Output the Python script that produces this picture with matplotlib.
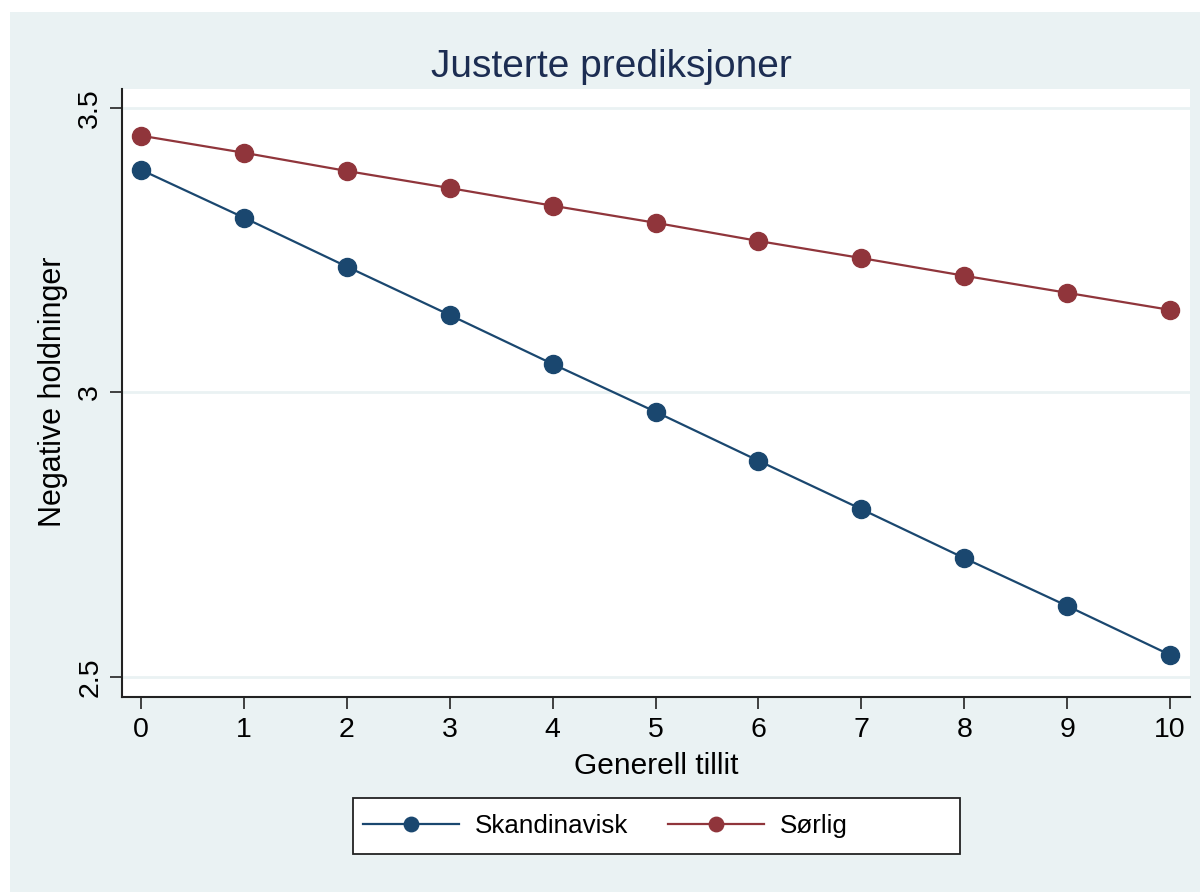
import matplotlib
matplotlib.use("Agg")
import matplotlib.pyplot as plt
from matplotlib.patches import Rectangle

# data
tillit = [0, 1, 2, 3, 4, 5, 6, 7, 8, 9, 10]
skandinavisk = [3.391, 3.307, 3.221, 3.136, 3.050, 2.966, 2.880, 2.795, 2.709, 2.625, 2.539]
sorlig = [3.451, 3.421, 3.389, 3.359, 3.328, 3.298, 3.266, 3.236, 3.205, 3.175, 3.145]
y_ticks = [2.5, 3.0, 3.5]
y_ticklabels = ["2.5", "3", "3.5"]

navy = "#1A476F"
maroon = "#90353B"
bg = "#EAF2F3"

plt.rcParams["font.family"] = ["Liberation Sans", "DejaVu Sans"]

W, H = 1200, 892
fig = plt.figure(figsize=(W / 100, H / 100), dpi=100, facecolor="white")
fig.patches.append(Rectangle((10 / W, 0), 1 - 10 / W, 1 - 12 / H,
                             transform=fig.transFigure, facecolor=bg,
                             edgecolor="none", zorder=-10))

ax = fig.add_axes([122 / W, 1 - 697 / H, (1190 - 122) / W, (697 - 89) / H])
ax.set_facecolor("white")

ax.plot(tillit, skandinavisk, color=navy, lw=1.6, marker="o", ms=13,
        label="Skandinavisk", zorder=3)
ax.plot(tillit, sorlig, color=maroon, lw=1.6, marker="o", ms=13,
        label="Sørlig", zorder=3)

ax.set_xlim(-0.185, 10.194)
ax.set_ylim(2.465, 3.533)
ax.set_xticks(tillit)
ax.set_yticks(y_ticks)
ax.set_yticklabels(y_ticklabels, rotation=90, va="center")
ax.grid(axis="y", color=bg, lw=2)
ax.set_axisbelow(True)

for s in ["top", "right"]:
    ax.spines[s].set_visible(False)
for s in ["left", "bottom"]:
    ax.spines[s].set_linewidth(1.5)
    ax.spines[s].set_color("#222222")
ax.tick_params(axis="both", length=8.5, width=1.2, color="#222222",
               labelsize=20.5)
ax.tick_params(axis="x", pad=6)
ax.tick_params(axis="y", pad=5)

fig.text(611.5 / W, 1 - 77 / H, "Justerte prediksjoner", ha="center",
         va="baseline", fontsize=28, color="#1C2D52")
fig.text(656 / W, 1 - 774 / H, "Generell tillit", ha="center",
         va="baseline", fontsize=21.5)
fig.text(53 / W, 1 - 392 / H, "Negative holdninger", ha="center",
         va="center", rotation=90, fontsize=22)

# legend box (Stata gives equal column widths, so draw the frame separately)
fig.patches.append(Rectangle((353 / W, 1 - 854 / H), (960 - 353) / W, 56 / H,
                             transform=fig.transFigure, facecolor="white",
                             edgecolor="#222222", lw=1.3, zorder=1))
leg = fig.legend(loc="center left", bbox_to_anchor=(363 / W, 1 - 826 / H),
                 ncol=2, fontsize=18.7, frameon=False, borderpad=0,
                 borderaxespad=0, handlelength=3.7, markerscale=0.8,
                 columnspacing=1.55, handletextpad=0.6)
leg.set_zorder(2)

fig.savefig("out.png", dpi=100, facecolor=fig.get_facecolor())
